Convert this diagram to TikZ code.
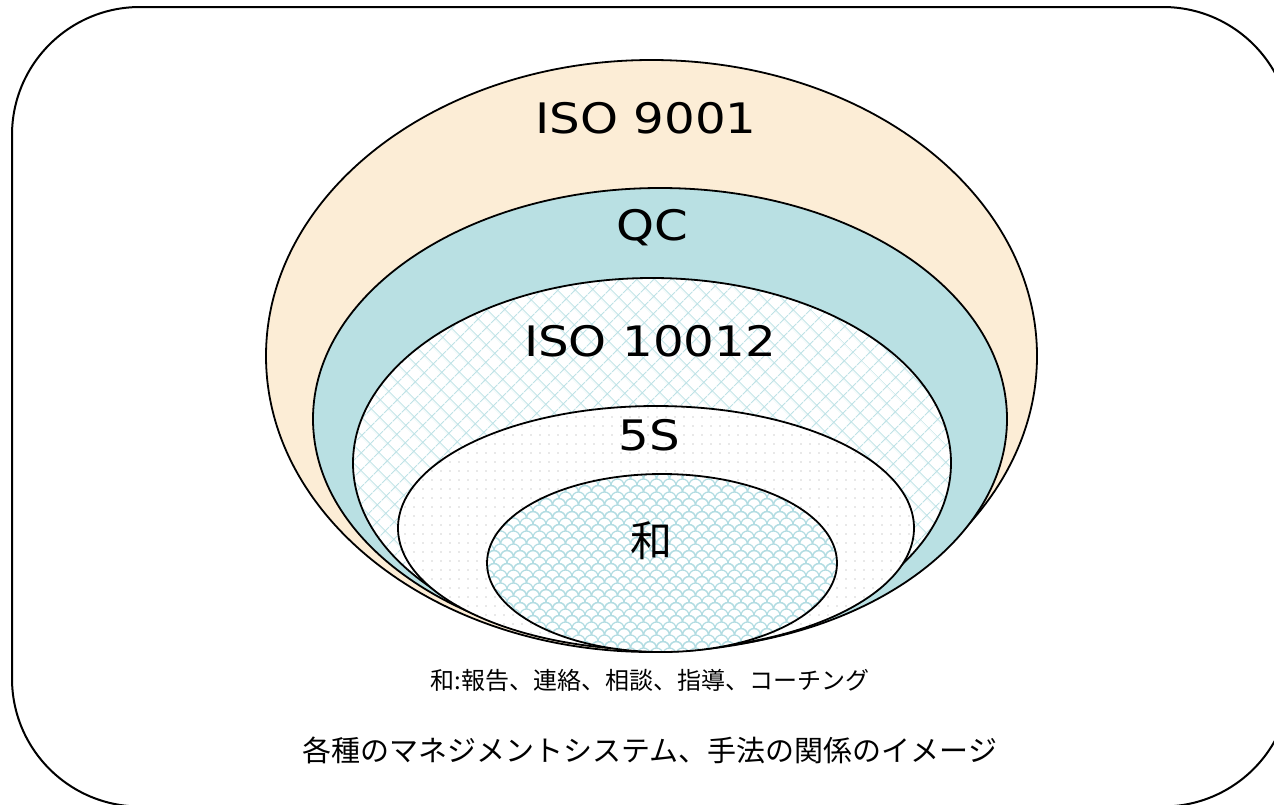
\documentclass[tikz,border=0pt]{standalone}
\usepackage{fontspec}
\setmainfont{Noto Sans CJK JP}
\newfontfamily\latinwide{DejaVu Sans}
\usetikzlibrary{patterns.meta}
\definecolor{cream}{RGB}{252,237,214}
\definecolor{qcteal}{RGB}{185,224,227}
\definecolor{hatchteal}{RGB}{190,226,230}
\definecolor{scaleteal}{RGB}{178,220,226}
\definecolor{dotgray}{RGB}{210,210,210}
\tikzdeclarepattern{
  name=scales,
  type=uncolored,
  bottom left={(-8pt,-1pt)},
  top right={(21pt,14pt)},
  tile size={(13pt,13pt)},
  code={
    \draw[line width=1.2pt] (0pt,6.5pt) arc[start angle=180,end angle=0,radius=6.5pt];
    \draw[line width=1.2pt] (-6.5pt,0pt) arc[start angle=180,end angle=0,radius=6.5pt];
    \draw[line width=1.2pt] (6.5pt,0pt) arc[start angle=180,end angle=0,radius=6.5pt];
  }
}
\newcommand{\widelbl}[1]{\scalebox{1.15}[1]{\latinwide #1}}
\begin{document}
\begin{tikzpicture}[x=1pt,y=-1pt,
  ring/.style={draw=black, line width=1.8pt},
  biglbl/.style={font=\fontsize{42}{46}\selectfont, inner sep=0pt},
  notelbl/.style={font=\fontsize{24}{28}\selectfont, inner sep=0pt},
  titlelbl/.style={font=\fontsize{29}{33}\selectfont, inner sep=0pt}]
\useasboundingbox (0,0) rectangle (1274,804);
\begin{scope}
  \clip (0,0) rectangle (1274,804);
  \draw[line width=2pt, rounded corners=128pt] (12,7) rectangle (1291,806.5);
\end{scope}
% ISO 9001
\fill[cream] (651.5,356) ellipse [x radius=385.5, y radius=296];
\draw[ring] (651.5,356) ellipse [x radius=385.5, y radius=296];
% QC
\fill[qcteal] (660,419) ellipse [x radius=347, y radius=231];
\draw[ring] (660,419) ellipse [x radius=347, y radius=231];
% ISO 10012
\fill[white] (652,463) ellipse [x radius=299, y radius=185];
\fill[pattern={Hatch[angle=45,distance=13pt,line width=1.2pt]}, pattern color=hatchteal] (652,463) ellipse [x radius=299, y radius=185];
\draw[ring] (652,463) ellipse [x radius=299, y radius=185];
% 5S
\fill[white] (656,528) ellipse [x radius=258, y radius=122];
\fill[pattern={Dots[distance=9pt,radius=0.8pt]}, pattern color=dotgray] (656,528) ellipse [x radius=258, y radius=122];
\draw[ring] (656,528) ellipse [x radius=258, y radius=122];
% wa
\fill[white] (662,563) ellipse [x radius=175, y radius=89];
\fill[pattern=scales, pattern color=scaleteal] (662,563) ellipse [x radius=175, y radius=89];
\draw[ring] (662,563) ellipse [x radius=175, y radius=89];
% labels
\node[biglbl] (iso9001) at (646,118) {\widelbl{ISO 9001}};
\node[biglbl] (qc) at (652,228) {\widelbl{QC}};
\node[biglbl] (iso10012) at (650,341) {\widelbl{ISO 10012}};
\node[biglbl] (fives) at (649,435) {\widelbl{5S}};
\node[biglbl] (wa) at (651,541) {和};
\node[notelbl] (note) at (650,680) {和:報告、連絡、相談、指導、コーチング};
\node[titlelbl] (title) at (650,750) {各種のマネジメントシステム、手法の関係のイメージ};
\end{tikzpicture}
\end{document}
